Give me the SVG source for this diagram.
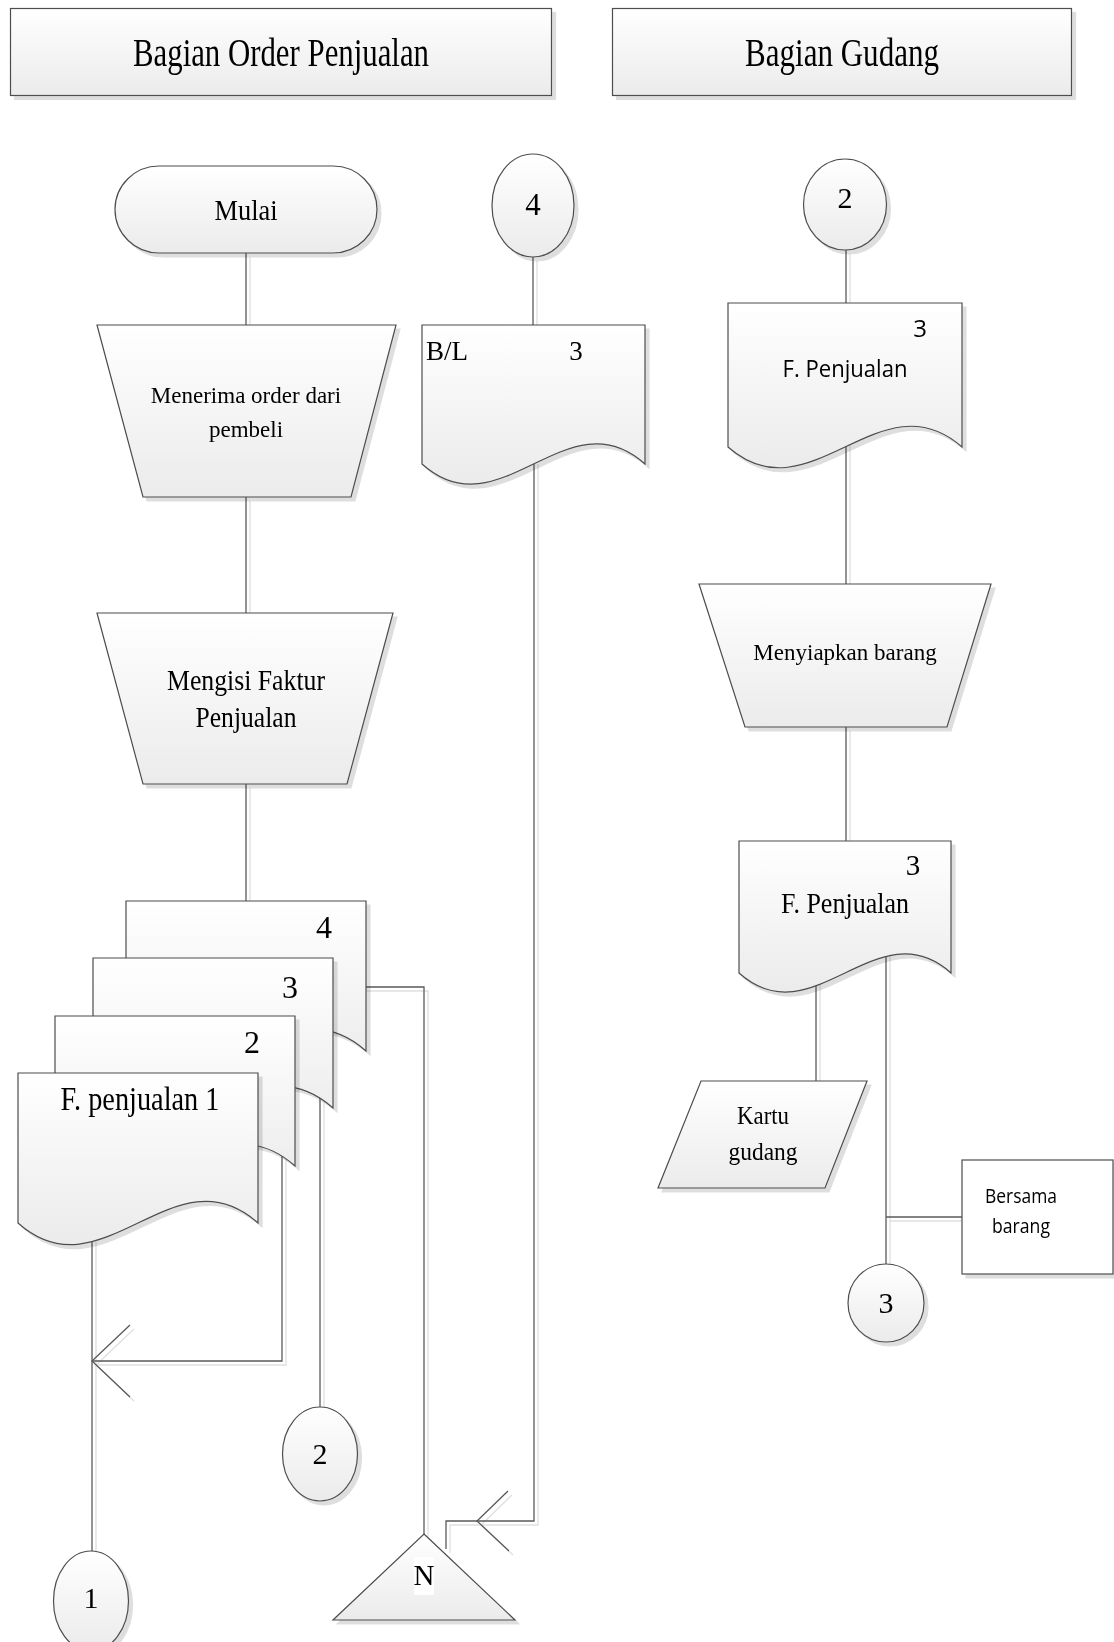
<svg xmlns="http://www.w3.org/2000/svg" width="1114" height="1642" viewBox="0 0 1114 1642">
  <defs>
    <linearGradient id="fillGrad" x1="0" y1="0" x2="0" y2="1">
      <stop offset="0" stop-color="#ffffff"/>
      <stop offset="1" stop-color="#ebebeb"/>
    </linearGradient>
    <filter id="shadow" filterUnits="userSpaceOnUse" x="0" y="0" width="1114" height="1642">
      <feOffset in="SourceAlpha" dx="4" dy="4" result="off"/>
      <feComponentTransfer in="off" result="soft">
        <feFuncA type="linear" slope="0.13"/>
      </feComponentTransfer>
      <feMerge>
        <feMergeNode in="soft"/>
        <feMergeNode in="SourceGraphic"/>
      </feMerge>
    </filter>
    <style>
      .shape { fill: url(#fillGrad); stroke: #4d4d4d; stroke-width: 1.2; }
      .plain { fill: #ffffff; stroke: #4d4d4d; stroke-width: 1.2; }
      .link { fill: none; stroke: #595959; stroke-width: 1.3; }
      .serif { font-family: "Liberation Serif", "Times New Roman", serif; fill: #000; }
      .sans { font-family: "Open Sans", "Liberation Sans", sans-serif; fill: #000; }
      .mid { text-anchor: middle; }
    </style>
  </defs>

  <!-- lane headers -->
  <g id="header-order" filter="url(#shadow)">
    <rect class="shape" x="10.5" y="8.5" width="541" height="87"/>
    <text class="serif mid" x="281" y="66" font-size="40" textLength="296" lengthAdjust="spacingAndGlyphs">Bagian Order Penjualan</text>
  </g>
  <g id="header-gudang" filter="url(#shadow)">
    <rect class="shape" x="612.5" y="8.5" width="459" height="87"/>
    <text class="serif mid" x="842" y="66" font-size="40" textLength="194" lengthAdjust="spacingAndGlyphs">Bagian Gudang</text>
  </g>

  <!-- connectors -->
  <g id="connectors" filter="url(#shadow)">
    <path class="link" d="M246,253 V325"/>
    <path class="link" d="M246,497 V613"/>
    <path class="link" d="M246,784 V901"/>
    <path class="link" d="M533,257 V325"/>
    <!-- F. penjualan 1 to connector 1 -->
    <path class="link" d="M92,1238 V1551"/>
    <!-- copy 2 returns to the left -->
    <path class="link" d="M282,1150 V1361 H92"/>
    <polyline class="link" points="130,1325 92,1361 130,1397"/>
    <!-- copy 3 to connector 2 -->
    <path class="link" d="M320,1095 V1407"/>
    <!-- copy 4 to file N -->
    <path class="link" d="M360,987 H424 V1534"/>
    <!-- B/L to file N -->
    <path class="link" d="M534,460 V1521 H446 V1549"/>
    <polyline class="link" points="508,1491 477,1521 509,1551"/>
    <!-- warehouse lane -->
    <path class="link" d="M846,250 V303"/>
    <path class="link" d="M846,440 V584"/>
    <path class="link" d="M846,727 V841"/>
    <path class="link" d="M816,980 V1081"/>
    <path class="link" d="M886,950 V1264"/>
    <path class="link" d="M886,1217 H962"/>
  </g>

  <!-- order lane -->
  <g id="mulai" filter="url(#shadow)">
    <rect class="shape" x="115" y="166" width="262" height="87" rx="44" ry="44"/>
    <text class="serif mid" x="246" y="220" font-size="30" textLength="63" lengthAdjust="spacingAndGlyphs">Mulai</text>
  </g>
  <g id="menerima-order" filter="url(#shadow)">
    <polygon class="shape" points="97,325 396,325 351,497 143,497"/>
    <text class="serif mid" x="246" y="403" font-size="23">Menerima order dari</text>
    <text class="serif mid" x="246" y="437" font-size="23">pembeli</text>
  </g>
  <g id="mengisi-faktur" filter="url(#shadow)">
    <polygon class="shape" points="97,613 393,613 347,784 143,784"/>
    <text class="serif mid" x="246" y="690" font-size="29" textLength="158" lengthAdjust="spacingAndGlyphs">Mengisi Faktur</text>
    <text class="serif mid" x="246" y="727" font-size="29" textLength="101" lengthAdjust="spacingAndGlyphs">Penjualan</text>
  </g>
  <g id="faktur-4" filter="url(#shadow)">
    <path class="shape" d="M126,901 H366 V1051 C282,976 210,1126 126,1051 Z"/>
    <text class="serif mid" x="324" y="938" font-size="32">4</text>
  </g>
  <g id="faktur-3" filter="url(#shadow)">
    <path class="shape" d="M93,958 H333 V1108 C249,1033 177,1183 93,1108 Z"/>
    <text class="serif mid" x="290" y="998" font-size="32">3</text>
  </g>
  <g id="faktur-2" filter="url(#shadow)">
    <path class="shape" d="M55,1016 H295 V1166 C211,1091 139,1241 55,1166 Z"/>
    <text class="serif mid" x="252" y="1053" font-size="32">2</text>
  </g>
  <g id="faktur-1" filter="url(#shadow)">
    <path class="shape" d="M18,1073 H258 V1223 C174,1148 102,1298 18,1223 Z"/>
    <text class="serif mid" x="140" y="1110" font-size="33" textLength="159" lengthAdjust="spacingAndGlyphs">F. penjualan 1</text>
  </g>
  <g id="konektor-4" filter="url(#shadow)">
    <ellipse class="shape" cx="533" cy="205.5" rx="41" ry="51.5"/>
    <text class="serif mid" x="533" y="215" font-size="31">4</text>
  </g>
  <g id="bl" filter="url(#shadow)">
    <path class="shape" d="M422,325 H645 V464 C567,394 500,534 422,464 Z"/>
    <text class="serif" x="426" y="360" font-size="27">B/L</text>
    <text class="serif mid" x="576" y="360" font-size="27">3</text>
  </g>
  <g id="konektor-2-out" filter="url(#shadow)">
    <ellipse class="shape" cx="320" cy="1454" rx="37.5" ry="47"/>
    <text class="serif mid" x="320" y="1464" font-size="30">2</text>
  </g>
  <g id="konektor-1" filter="url(#shadow)">
    <ellipse class="shape" cx="91" cy="1601" rx="37.5" ry="50"/>
    <text class="serif mid" x="91" y="1608" font-size="30">1</text>
  </g>
  <g id="arsip-n" filter="url(#shadow)">
    <polygon class="shape" points="424,1534 515,1620 333,1620"/>
    <rect x="414" y="1557" width="20" height="38" fill="#ffffff"/>
    <text class="serif mid" x="424" y="1585" font-size="29">N</text>
  </g>

  <!-- warehouse lane -->
  <g id="konektor-2-in" filter="url(#shadow)">
    <ellipse class="shape" cx="845" cy="204.5" rx="41.5" ry="45.5"/>
    <text class="serif mid" x="845" y="208" font-size="30">2</text>
  </g>
  <g id="faktur-gudang-1" filter="url(#shadow)">
    <path class="shape" d="M728,303 H962 V447 C880,375 810,519 728,447 Z"/>
    <text class="sans mid" x="920" y="337" font-size="24">3</text>
    <text class="sans mid" x="845" y="377" font-size="24" textLength="125" lengthAdjust="spacingAndGlyphs">F. Penjualan</text>
  </g>
  <g id="menyiapkan-barang" filter="url(#shadow)">
    <polygon class="shape" points="699,584 991,584 947,727 745,727"/>
    <text class="serif mid" x="845" y="660" font-size="23">Menyiapkan barang</text>
  </g>
  <g id="faktur-gudang-2" filter="url(#shadow)">
    <path class="shape" d="M739,841 H951 V973 C877,907 813,1039 739,973 Z"/>
    <text class="serif mid" x="913" y="875" font-size="29">3</text>
    <text class="serif mid" x="845" y="913" font-size="30" textLength="128" lengthAdjust="spacingAndGlyphs">F. Penjualan</text>
  </g>
  <g id="kartu-gudang" filter="url(#shadow)">
    <polygon class="shape" points="701,1081 867,1081 825,1188 658,1188"/>
    <text class="serif mid" x="763" y="1124" font-size="26" textLength="52" lengthAdjust="spacingAndGlyphs">Kartu</text>
    <text class="serif mid" x="763" y="1160" font-size="26" textLength="69" lengthAdjust="spacingAndGlyphs">gudang</text>
  </g>
  <g id="bersama-barang" filter="url(#shadow)">
    <rect class="plain" x="962" y="1160" width="151" height="114"/>
    <text class="sans mid" x="1021" y="1203" font-size="20" textLength="72" lengthAdjust="spacingAndGlyphs">Bersama</text>
    <text class="sans mid" x="1021" y="1233" font-size="20" textLength="58" lengthAdjust="spacingAndGlyphs">barang</text>
  </g>
  <g id="konektor-3" filter="url(#shadow)">
    <ellipse class="shape" cx="886" cy="1303" rx="38" ry="39"/>
    <text class="serif mid" x="886" y="1313" font-size="30">3</text>
  </g>
</svg>
